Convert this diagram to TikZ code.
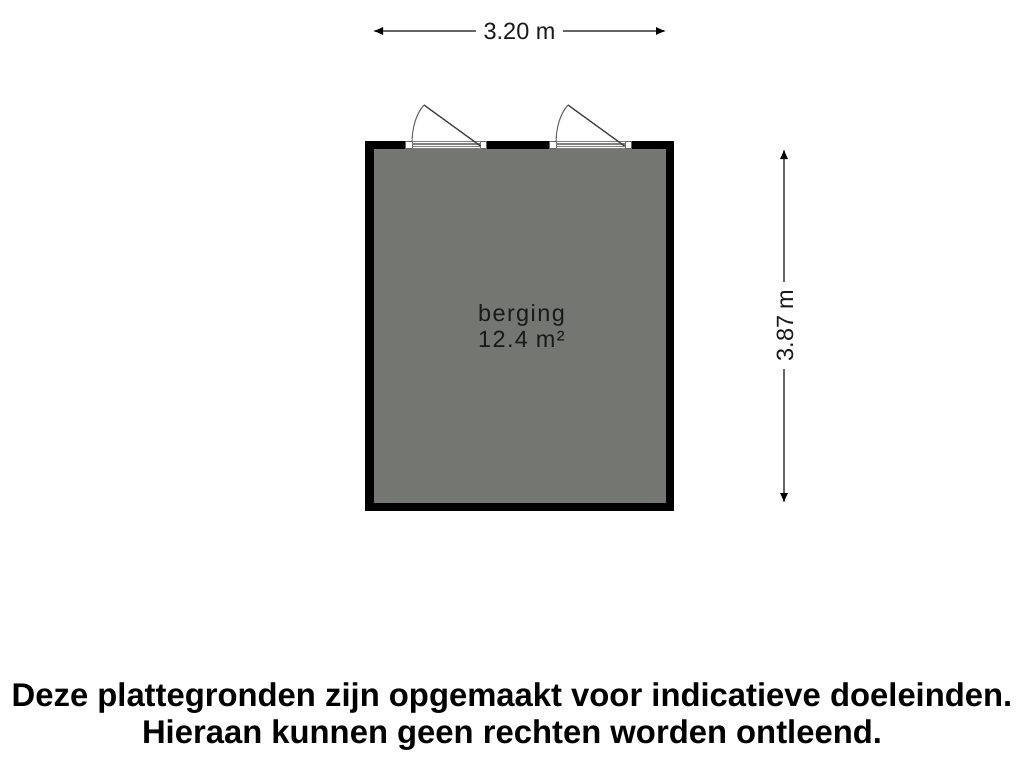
\documentclass[tikz,border=0pt]{standalone}
\usepackage{fontspec}
\setmainfont{Liberation Sans}
\newfontfamily\spacedfont[LetterSpace=6]{Liberation Sans}
\usetikzlibrary{arrows.meta}
\definecolor{floorgrey}{HTML}{747672}
\tikzset{
  x=1pt,y=-1pt,
  dimline/.style={draw=black!60,line width=1.1pt,{Latex[length=10pt,width=8pt,black]}-{Latex[length=10pt,width=8pt,black]}},
  dimtext/.style={font=\fontsize{23.5}{26}\selectfont,text=black!90,fill=white,inner sep=0pt,minimum width=87pt,minimum height=20pt},
  roomtext/.style={font=\spacedfont\fontsize{23.5}{26.5}\selectfont,text=black!90,align=left},
  notetext/.style={font=\bfseries\fontsize{32.8}{37}\selectfont,align=center,text=black},
  jamb/.style={draw=black!60,line width=.6pt,fill=white},
  sill/.style={draw=black!50,line width=1.1pt},
  leaf/.style={draw=black!75,line width=1.3pt},
  swing/.style={draw=black!60,line width=1.1pt},
}
\begin{document}
\begin{tikzpicture}
\useasboundingbox (0,0) rectangle (1024,768);
\fill[white] (0,0) rectangle (1024,768);
% walls and floor
\fill[black] (365,141) rectangle (674,511);
\fill[floorgrey] (374,149) rectangle (666,503);
% door 1
\fill[white] (405,141) rectangle (487,149);
\draw[jamb] (405.5,141.5) rectangle (412,148.5);
\draw[jamb] (480.5,141.5) rectangle (486.5,148.5);
\foreach \yy in {141.5,144,146.5,148.5} \draw[sill] (412,\yy) -- (480.5,\yy);
\coordinate (h1) at (480.5,146);
\coordinate (a1) at (424,105);
\coordinate (e1) at (412,141);
\draw[leaf] (h1) -- (a1);
\draw[swing] (a1) .. controls (416,114) and (412.5,127) .. (e1);
% door 2
\fill[white] (549,141) rectangle (631,149);
\draw[jamb] (549.5,141.5) rectangle (556,148.5);
\draw[jamb] (625,141.5) rectangle (631,148.5);
\foreach \yy in {141.5,144,146.5,148.5} \draw[sill] (556,\yy) -- (625,\yy);
\coordinate (h2) at (624.5,146);
\coordinate (a2) at (568,105);
\coordinate (e2) at (556,141);
\draw[leaf] (h2) -- (a2);
\draw[swing] (a2) .. controls (560,114) and (556.5,127) .. (e2);
% dimensions
\coordinate (wl) at (373,31);
\coordinate (wr) at (666,31);
\draw[dimline] (wl) -- (wr);
\node[dimtext] (wt) at (519.5,31) {3.20 m};
\coordinate (ht) at (784,149);
\coordinate (hb) at (784,503);
\draw[dimline] (ht) -- (hb);
\node[dimtext,rotate=90] (hl) at (785,325.5) {3.87 m};
% room label
\node[roomtext] (room) at (521.5,326) {berging\\12.4 m²};
% note
\node[notetext] (note) at (512,717) {Deze plattegronden zijn opgemaakt voor indicatieve doeleinden.\\Hieraan kunnen geen rechten worden ontleend.};
\end{tikzpicture}
\end{document}
